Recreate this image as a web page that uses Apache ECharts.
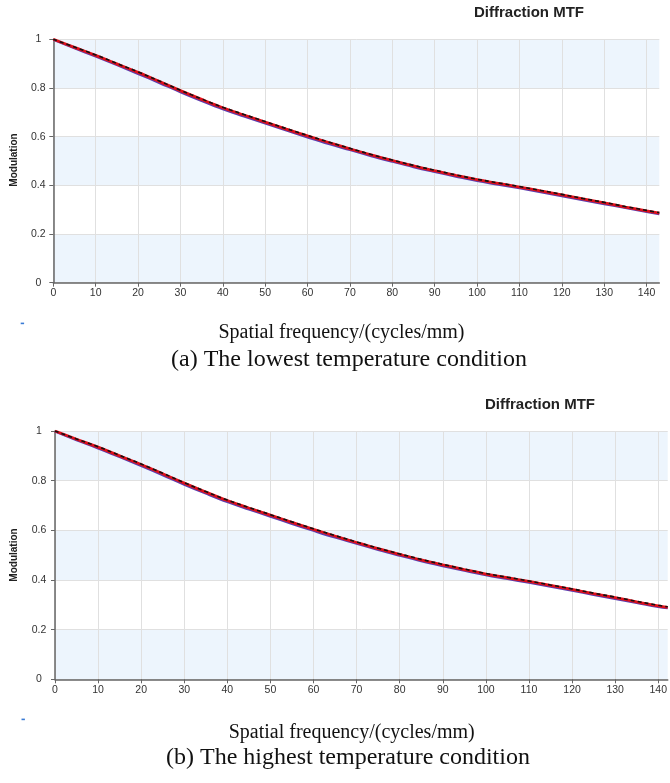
<!DOCTYPE html>
<html>
<head>
<meta charset="utf-8">
<script src="https://cdn.jsdelivr.net/npm/echarts@6/dist/echarts.min.js"></script>
<style>
html,body{margin:0;padding:0;background:#fff;}
#c{width:670px;height:783px;}
</style>
</head>
<body>
<div id="c"></div>
<script>
// Spatial frequency samples (cycles/mm)
var freqA = [0,5,10,15,20,25,30,35,40,45,50,55,60,65,70,75,80,85,90,95,100,105,110,115,120,125,130,135,140,143];
var freqB = [0,5,10,15,20,25,30,35,40,45,50,55,60,65,70,75,80,85,90,95,100,105,110,115,120,125,130,135,140,142.2];

// (a) lowest temperature
var redA    = [1.000,0.967,0.934,0.899,0.864,0.827,0.789,0.753,0.719,0.689,0.660,0.631,0.603,0.576,0.550,0.525,0.502,0.480,0.460,0.441,0.423,0.408,0.393,0.377,0.361,0.344,0.328,0.311,0.295,0.286];
var blackA  = [1.000,0.968,0.936,0.901,0.866,0.829,0.791,0.755,0.721,0.691,0.662,0.633,0.605,0.578,0.552,0.527,0.504,0.482,0.462,0.443,0.425,0.410,0.395,0.379,0.363,0.346,0.330,0.313,0.297,0.288];
var purpleA = [0.998,0.963,0.929,0.894,0.858,0.821,0.783,0.747,0.713,0.683,0.654,0.625,0.597,0.570,0.545,0.520,0.497,0.475,0.455,0.436,0.418,0.403,0.388,0.372,0.356,0.339,0.323,0.307,0.291,0.282];

// (b) highest temperature
var redB    = [1.000,0.967,0.935,0.900,0.865,0.828,0.790,0.754,0.720,0.690,0.661,0.632,0.604,0.577,0.551,0.526,0.503,0.481,0.461,0.442,0.424,0.409,0.394,0.378,0.362,0.345,0.329,0.312,0.296,0.290];
var blackB  = [1.000,0.968,0.937,0.902,0.867,0.830,0.792,0.756,0.722,0.692,0.663,0.634,0.606,0.579,0.553,0.528,0.505,0.483,0.463,0.444,0.426,0.411,0.396,0.380,0.364,0.347,0.331,0.314,0.298,0.292];
var purpleB = [0.998,0.963,0.930,0.895,0.859,0.822,0.784,0.748,0.714,0.684,0.655,0.626,0.598,0.571,0.546,0.521,0.498,0.476,0.456,0.437,0.419,0.404,0.389,0.373,0.357,0.340,0.324,0.308,0.292,0.286];

var yTicks = [0, 0.2, 0.4, 0.6, 0.8, 1];

function pairs(xs, ys){ return xs.map(function(x,i){ return [x, ys[i]]; }); }

var SANS = 'Arial, "Liberation Sans", sans-serif';
var SERIF = '"Times New Roman", "Liberation Serif", serif';

function xAx(idx, max){
  return {
    type:'value', gridIndex: idx, min:0, max:max, interval:10,
    axisLine:{show:true, lineStyle:{color:'#666', width:1.5}},
    axisTick:{show:true, length:4, lineStyle:{color:'#666'}},
    axisLabel:{color:'#333', fontSize:10.5, fontFamily:SANS, margin:5, showMaxLabel:false,
      formatter:function(v){ return (v % 10 === 0) ? String(v) : ''; }},
    splitLine:{show:true, showMaxLine:false, lineStyle:{color:'#e0e0e0', width:1}}
  };
}
function yAx(idx, margin){
  return {
    type:'value', gridIndex: idx, min:yTicks[0], max:yTicks[yTicks.length-1], interval:0.2,
    axisLine:{show:true, lineStyle:{color:'#666', width:1.5}},
    axisTick:{show:true, length:4, lineStyle:{color:'#666'}},
    axisLabel:{color:'#333', fontSize:10.5, fontFamily:SANS, margin:margin, align:'center'},
    splitLine:{show:true, lineStyle:{color:'#e0e0e0', width:1}},
    splitArea:{show:true, areaStyle:{color:['#edf5fd','#ffffff']}}
  };
}
function ser(idx, xs, ys, color, width, type, z){
  return {
    type:'line', xAxisIndex: idx, yAxisIndex: idx, data: pairs(xs, ys),
    showSymbol:false, smooth:0.4, z:z, animation:false,
    lineStyle:{color:color, width:width, type:type}
  };
}

var chart = echarts.init(document.getElementById('c'), null, {renderer:'canvas'});
chart.setOption({
  animation:false,
  backgroundColor:'#ffffff',
  grid:[
    {left:53.3, top:39.3, width:606, height:243.4, containLabel:false},
    {left:55, top:431, width:615, height:248.3, containLabel:false}
  ],
  xAxis:[xAx(0,143), xAx(1,142.2)],
  yAxis:[yAx(0,15), yAx(1,16)],
  series:[
    ser(0, freqA, purpleA, '#5a3fb0', 2.2, 'solid', 2),
    ser(0, freqA, redA, '#e0101a', 2.8, 'solid', 3),
    ser(0, freqA, blackA, '#111111', 1.6, [4,3], 4),
    ser(1, freqB, purpleB, '#5a3fb0', 2.2, 'solid', 2),
    ser(1, freqB, redB, '#e0101a', 2.8, 'solid', 3),
    ser(1, freqB, blackB, '#111111', 1.6, [4,3], 4)
  ],
  graphic:[
    {type:'text', x:529, y:13, style:{text:'Diffraction MTF', font:'bold 15px '+SANS, fill:'#222', align:'center', verticalAlign:'middle'}},
    {type:'text', x:540, y:405, style:{text:'Diffraction MTF', font:'bold 15px '+SANS, fill:'#222', align:'center', verticalAlign:'middle'}},
    {type:'text', x:14, y:160, rotation:Math.PI/2, style:{text:'Modulation', font:'bold 10px '+SANS, fill:'#222', align:'center', verticalAlign:'middle'}},
    {type:'text', x:14, y:555, rotation:Math.PI/2, style:{text:'Modulation', font:'bold 10px '+SANS, fill:'#222', align:'center', verticalAlign:'middle'}},
    {type:'rect', shape:{x:20.7, y:322.6, width:3.4, height:1.6}, style:{fill:'#3a7bd5'}},
    {type:'rect', shape:{x:21.5, y:718.6, width:3.4, height:1.6}, style:{fill:'#3a7bd5'}},
    {type:'text', x:341.5, y:333, style:{text:'Spatial frequency/(cycles/mm)', font:'20px '+SERIF, fill:'#111', align:'center', verticalAlign:'middle'}},
    {type:'text', x:349, y:360, style:{text:'(a) The lowest temperature condition', font:'24px '+SERIF, fill:'#111', align:'center', verticalAlign:'middle'}},
    {type:'text', x:351.7, y:733, style:{text:'Spatial frequency/(cycles/mm)', font:'20px '+SERIF, fill:'#111', align:'center', verticalAlign:'middle'}},
    {type:'text', x:348, y:758, style:{text:'(b) The highest temperature condition', font:'24px '+SERIF, fill:'#111', align:'center', verticalAlign:'middle'}}
  ]
});
</script>
</body>
</html>
